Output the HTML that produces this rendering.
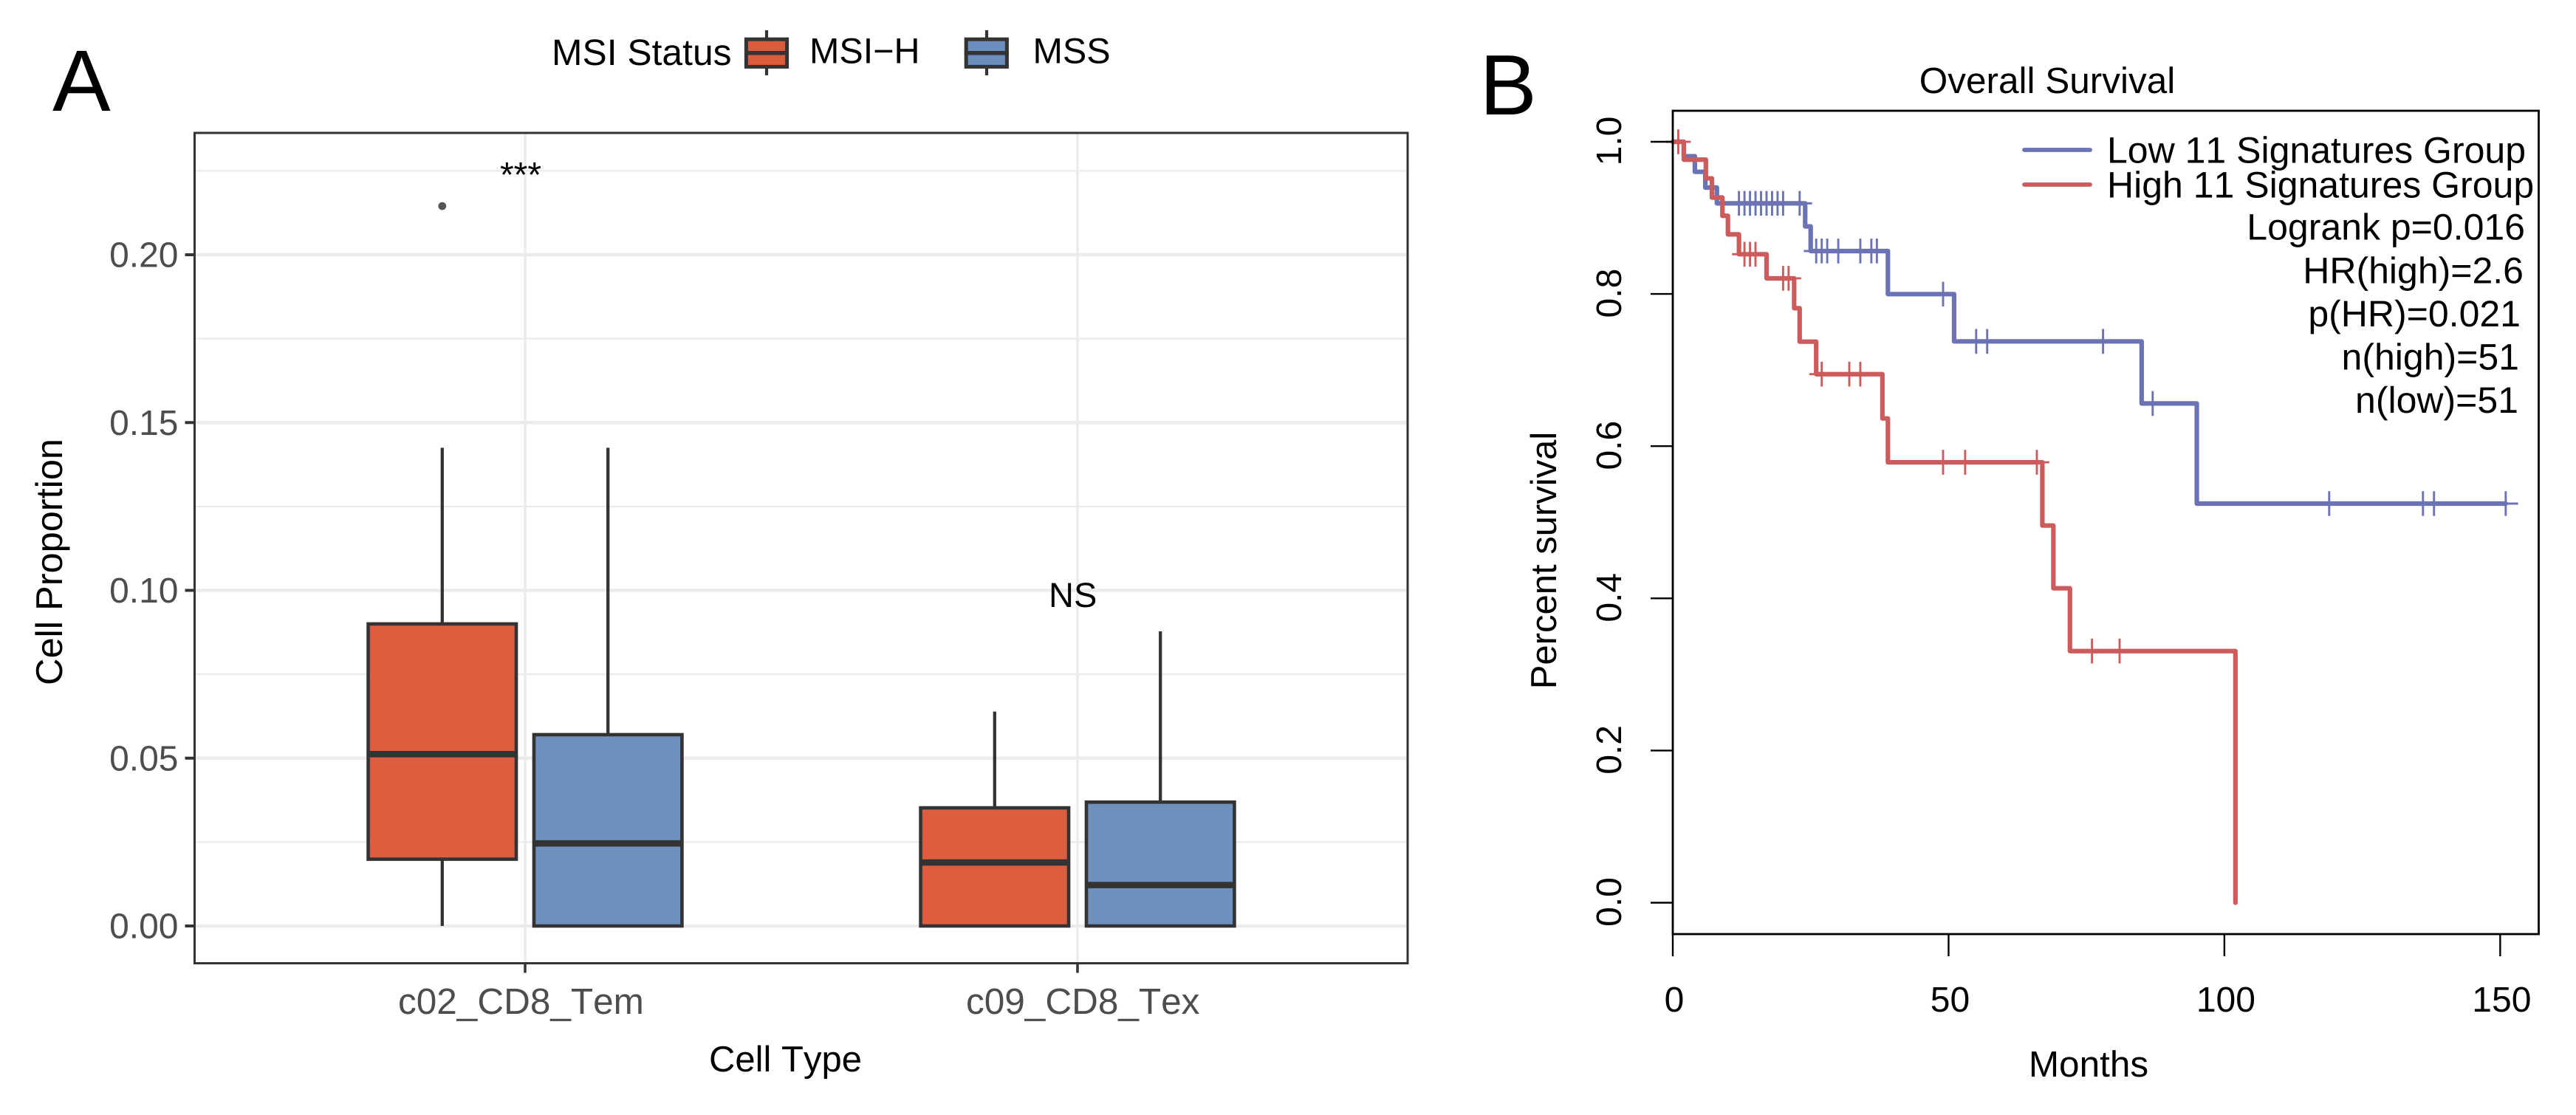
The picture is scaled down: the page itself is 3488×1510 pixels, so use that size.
<!DOCTYPE html>
<html lang="en">
<head>
<meta charset="utf-8">
<title>MSI status cell proportions and overall survival</title>
<style>
html,body{margin:0;padding:0;background:#fff;}
svg{display:block;}
text{font-family:"Liberation Sans",sans-serif;text-rendering:geometricPrecision;font-kerning:none;fill:#000;}
</style>
</head>
<body>
<svg id="fig" xmlns="http://www.w3.org/2000/svg" width="3488" height="1510" viewBox="0 0 3488 1510">
  <rect x="0" y="0" width="3488" height="1510" fill="#fff"/>

  <g id="panelA">
    <text x="71" y="150" font-size="118" fill="#0a0a0a">A</text>
    <g>
      <text x="747" y="88" font-size="49.8">MSI Status</text>
      <g>
        <line x1="1038" x2="1038" y1="41" y2="102" stroke="#333" stroke-width="4.2"/>
        <rect x="1010.4" y="53.2" width="55.2" height="37.2" fill="#DC5B3B" stroke="#333" stroke-width="5"/>
        <line x1="1008" x2="1068" y1="71.7" y2="71.7" stroke="#333" stroke-width="5.5"/>
        <text x="1096" y="85.5" font-size="48.5">MSI−H</text>
      </g>
      <g>
        <line x1="1336" x2="1336" y1="41" y2="102" stroke="#333" stroke-width="4.2"/>
        <rect x="1308.2" y="53.2" width="55.2" height="37.2" fill="#6A8EBD" stroke="#333" stroke-width="5"/>
        <line x1="1305.8" x2="1365.8" y1="71.7" y2="71.7" stroke="#333" stroke-width="5.5"/>
        <text x="1398.5" y="85.5" font-size="48.5">MSS</text>
      </g>
    </g>
    <g id="aGrid"></g>
    <g id="aMarks"></g>
    <text x="677" y="253" font-size="48">***</text>
    <text x="1420" y="822" font-size="47">NS</text>
    <rect x="263.5" y="180" width="1642.5" height="1124.5" fill="none" stroke="#333" stroke-width="3"/>
    <g id="aAxes"></g>
    <text x="960" y="1451" font-size="49">Cell Type</text>
    <text transform="translate(84 928) rotate(-90)" font-size="50.5">Cell Proportion</text>
  </g>

  <g id="panelB">
    <text x="2003.5" y="155" font-size="116" fill="#0a0a0a">B</text>
    <text x="2772" y="126" font-size="49.5" text-anchor="middle">Overall Survival</text>
    <g id="bCurves"></g>
    <rect x="2265" y="150" width="1172.5" height="1115" fill="none" stroke="#000" stroke-width="2.8"/>
    <g id="bAxes"></g>
    <text x="2828" y="1458" font-size="49.5" text-anchor="middle">Months</text>
    <text transform="translate(2107 759) rotate(-90)" font-size="49" text-anchor="middle">Percent survival</text>
    <g>
      <g>
        <line x1="2741" x2="2830" y1="203" y2="203" stroke="#6B73B5" stroke-width="5.8" stroke-linecap="round"/>
        <text x="2853" y="220.3" font-size="50">Low 11 Signatures Group</text>
      </g>
      <g>
        <line x1="2741" x2="2830" y1="250" y2="250" stroke="#CE5B5B" stroke-width="5.8" stroke-linecap="round"/>
        <text x="2853" y="267.4" font-size="50">High 11 Signatures Group</text>
      </g>
      <text x="3419" y="324.4" font-size="50" text-anchor="end">Logrank p=0.016</text>
      <text x="3417" y="383.7" font-size="50" text-anchor="end">HR(high)=2.6</text>
      <text x="3413" y="442" font-size="50" text-anchor="end">p(HR)=0.021</text>
      <text x="3411" y="500.4" font-size="50" text-anchor="end">n(high)=51</text>
      <text x="3410" y="559" font-size="50" text-anchor="end">n(low)=51</text>
    </g>
  </g>
</svg>

<script>
// ---- Panel A data ----
const boxCategories = ['c02_CD8_Tem', 'c09_CD8_Tex'];
const msiHighQ1 = [0.0199, 0];
const msiHighMedian = [0.0512, 0.0189];
const msiHighQ3 = [0.0900, 0.0352];
const msiHighWhiskerLow = [0, 0];
const msiHighWhiskerHigh = [0.1425, 0.0639];
const mssQ1 = [0, 0];
const mssMedian = [0.0246, 0.0122];
const mssQ3 = [0.0570, 0.0369];
const mssWhiskerLow = [0, 0];
const mssWhiskerHigh = [0.1425, 0.0878];
const msiHighOutliers = [[0, 0.2145]];
const boxYTickLabels = ['0.00', '0.05', '0.10', '0.15', '0.20'];
const boxYMinorTicks = [0.025, 0.075, 0.125, 0.175, 0.225];

// ---- Panel B data ----
const lowEventTimes = [2.0, 4.0, 5.9, 8.0, 24.0, 25.0, 39.0, 51.0, 85.0, 95.0];
const lowEventSurvival = [0.981, 0.9605, 0.9398, 0.9191, 0.8888, 0.8564, 0.7998, 0.7377, 0.6561, 0.5245];
const lowCensorTimes = [12, 13, 14, 15, 16, 17, 18, 19, 20, 23, 26, 27, 28, 30, 34, 36, 37, 49, 55, 57, 78, 87, 119, 136, 138, 151];
const highEventTimes = [2.0, 6.0, 7.1, 9.0, 10.0, 12.0, 17.0, 22.0, 23.0, 26.0, 38.0, 39.0, 67.0, 69.0, 72.0, 102.0];
const highEventSurvival = [0.9765, 0.9519, 0.9267, 0.9027, 0.8783, 0.8522, 0.8205, 0.7813, 0.7373, 0.6946, 0.6364, 0.5788, 0.4957, 0.4132, 0.3307, 0];
const highCensorTimes = [1, 13, 14, 15, 20, 21, 27, 32, 34, 49, 53, 66, 76, 81];
const survivalXTickLabels = ['0', '50', '100', '150'];
const survivalYTickLabels = ['0.0', '0.2', '0.4', '0.6', '0.8', '1.0'];

const NS = 'http://www.w3.org/2000/svg';
function make(parent, tag, attrs, content) {
  const node = document.createElementNS(NS, tag);
  for (const key in attrs) node.setAttribute(key, attrs[key]);
  if (content !== undefined) node.textContent = content;
  parent.appendChild(node);
  return node;
}

// ---- Panel A scales ----
const boxY = v => 1254 - 4545 * v;
const boxX = i => 711 + 748 * i;
const DODGE = 0.15, BOX_WIDTH = 0.268, BAND = 748;
const aGrid = document.getElementById('aGrid');
const aMarks = document.getElementById('aMarks');
const aAxes = document.getElementById('aAxes');

boxYMinorTicks.forEach(function (v) {
  const g = make(aGrid, 'line', {x1: 265, x2: 1905, y1: boxY(v), y2: boxY(v), stroke: '#EBEBEB', 'stroke-width': 2.2});
  
  
});
boxYTickLabels.forEach(function (label) {
  const v = parseFloat(label);
  const g = make(aGrid, 'line', {x1: 265, x2: 1905, y1: boxY(v), y2: boxY(v), stroke: '#EBEBEB', 'stroke-width': 4.5});
  
  
  const t = make(aAxes, 'line', {x1: 250.5, x2: 263, y1: boxY(v), y2: boxY(v), stroke: '#333', 'stroke-width': 4});
  
  
  const l = make(aAxes, 'text', {x: 241.5, y: boxY(v) + 16.5, 'font-size': 48, 'text-anchor': 'end', style: 'fill:#4D4D4D'}, label);
  
  
});

boxCategories.forEach(function (cat, i) {
  const g = make(aGrid, 'line', {x1: boxX(i), x2: boxX(i), y1: 181, y2: 1304, stroke: '#EBEBEB', 'stroke-width': 3.5});
  
  
  const t = make(aAxes, 'line', {x1: boxX(i), x2: boxX(i), y1: 1304.5, y2: 1317.5, stroke: '#333', 'stroke-width': 3.5});
  
  
  const l = make(aAxes, 'text', {x: boxX(i) - 172 + (i ? 21 : 0), y: 1373, 'font-size': 49.5, style: 'fill:#4D4D4D'}, cat);
  
  
});

function drawBox(i, offset, fill, q1, med, q3, wLow, wHigh, name) {
  const cx = boxX(i) + offset * BAND;
  const w = BOX_WIDTH * BAND;
  const group = make(aMarks, 'g', {});
  
  
  make(group, 'line', {x1: cx, x2: cx, y1: boxY(q3), y2: boxY(wHigh), stroke: '#333', 'stroke-width': 4.3});
  make(group, 'line', {x1: cx, x2: cx, y1: boxY(q1), y2: boxY(wLow), stroke: '#333', 'stroke-width': 4.3});
  make(group, 'rect', {x: cx - w / 2, y: boxY(q3), width: w, height: boxY(q1) - boxY(q3), fill: fill, 'fill-opacity': 0.98, stroke: '#333', 'stroke-width': 4.6});
  make(group, 'line', {x1: cx - w / 2, x2: cx + w / 2, y1: boxY(med), y2: boxY(med), stroke: '#333', 'stroke-width': 8.6});
}
boxCategories.forEach(function (cat, i) {
  drawBox(i, -DODGE, '#DC5B3B', msiHighQ1[i], msiHighMedian[i], msiHighQ3[i], msiHighWhiskerLow[i], msiHighWhiskerHigh[i], 'box-msi-h-' + cat);
  drawBox(i, DODGE, '#6A8EBD', mssQ1[i], mssMedian[i], mssQ3[i], mssWhiskerLow[i], mssWhiskerHigh[i], 'box-mss-' + cat);
});
msiHighOutliers.forEach(function (o) {
  const p = make(aMarks, 'circle', {cx: boxX(o[0]) - DODGE * BAND, cy: boxY(o[1]), r: 5.4, fill: '#555'});
  
  
});

// ---- Panel B scales ----
const survX = m => 2265 + 7.469 * m;
const survY = s => 1222.5 - 1030.5 * s;
const bCurves = document.getElementById('bCurves');
const bAxes = document.getElementById('bAxes');
const ARM = 16.8;

function survivalAt(times, surv, t) {
  let s = 1;
  times.forEach(function (et, i) { if (et <= t) s = surv[i]; });
  return s;
}
function drawCurve(times, surv, censors, color, name) {
  const group = make(bCurves, 'g', {});
  
  
  let d = 'M' + survX(0) + ' ' + survY(1);
  times.forEach(function (t, i) {
    d += 'H' + survX(t) + 'V' + survY(surv[i]);
  });
  const lastTime = Math.max(times[times.length - 1], censors[censors.length - 1]);
  d += 'H' + survX(lastTime);
  make(group, 'path', {d: d, fill: 'none', stroke: color, 'stroke-width': 6.2, 'stroke-linejoin': 'round', 'stroke-linecap': 'round'});
  censors.forEach(function (t) {
    const s = survivalAt(times, surv, t);
    const m = make(group, 'path', {
      d: 'M' + (survX(t) - ARM) + ' ' + survY(s) + 'H' + (survX(t) + ARM) + 'M' + survX(t) + ' ' + (survY(s) - ARM) + 'V' + (survY(s) + ARM),
      fill: 'none', stroke: color, 'stroke-width': 2.9
    });
    
    
  });
}
drawCurve(lowEventTimes, lowEventSurvival, lowCensorTimes, '#6B73B5', 'survival-curve-low');
drawCurve(highEventTimes, highEventSurvival, highCensorTimes, '#CE5B5B', 'survival-curve-high');

survivalXTickLabels.forEach(function (label) {
  const v = parseFloat(label);
  const t = make(bAxes, 'line', {x1: survX(v), x2: survX(v), y1: 1265, y2: 1295, stroke: '#000', 'stroke-width': 2.4});
  
  
  const l = make(bAxes, 'text', {x: survX(v) + 2, y: 1370, 'font-size': 48, 'text-anchor': 'middle'}, label);
  
  
});
survivalYTickLabels.forEach(function (label) {
  const v = parseFloat(label);
  const t = make(bAxes, 'line', {x1: 2235, x2: 2265, y1: survY(v), y2: survY(v), stroke: '#000', 'stroke-width': 2.4});
  
  
  const l = make(bAxes, 'text', {transform: 'translate(2195 ' + (survY(v) - 1) + ') rotate(-90)', 'font-size': 48, 'text-anchor': 'middle'}, label);
  
  
});
</script>
</body>
</html>
